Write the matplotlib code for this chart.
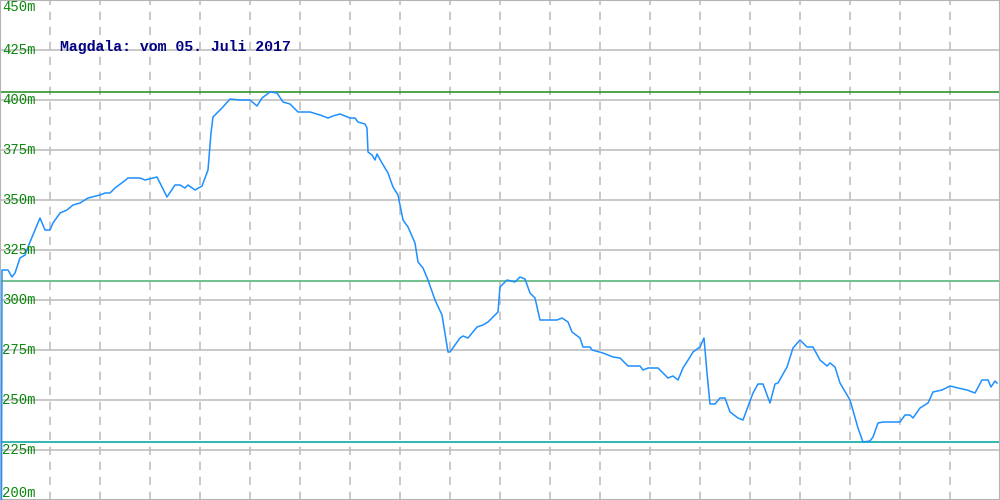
"""Elevation profile: Magdala, 05. Juli 2017."""

import matplotlib
matplotlib.use('Agg')
import matplotlib.pyplot as plt


# distance along the track (chart units, 0..1000) and elevation in m
distance = [
    1.5, 2, 8, 12, 15, 20, 25, 30, 35, 40, 45, 50, 53, 60, 67, 73, 80, 88,
    100, 105, 110, 115, 123, 128, 140, 145, 157, 160, 167, 175, 180, 185,
    188, 195, 202, 208, 211, 213, 222, 230, 240, 250, 257, 262, 270, 277,
    283, 290, 298, 310, 320, 328, 333, 340, 350, 355, 358, 365, 367, 368,
    372, 375, 377, 382, 388, 393, 398, 403, 408, 415, 418, 423, 428, 435,
    442, 448, 450, 460, 463, 468, 477, 483, 488, 498, 500, 507, 515, 520,
    525, 530, 535, 540, 557, 562, 568, 572, 580, 583, 590, 592, 603, 613,
    620, 628, 640, 643, 648, 658, 668, 673, 678, 683, 690, 693, 700, 704,
    707, 710, 715, 720, 725, 730, 738, 743, 753, 758, 763, 770, 775, 778,
    787, 793, 800, 807, 813, 820, 827, 830, 835, 840, 850, 858, 863, 870,
    873, 878, 883, 900, 905, 910, 913, 920, 928, 933, 942, 950, 958, 967,
    975, 982, 988, 991, 995, 997,
]
elevation = [
    200, 315, 315, 311.5, 313.5, 321, 322.5, 329, 335, 341, 335, 335, 338.5,
    343.5, 345, 347.5, 348.5, 351, 352.5, 353.5, 353.5, 356, 359, 361, 361,
    360, 361.5, 358.5, 351.5, 357.5, 357.5, 356, 357.5, 355, 357, 365,
    383.5, 391.5, 396, 400.5, 400, 400, 397, 401, 404, 403.5, 399, 398,
    394, 394, 392.5, 391, 392, 393, 391, 391, 389, 388, 386, 374, 372.5,
    370, 373, 368.5, 363.5, 356.5, 352.5, 340, 336.5, 328.5, 319, 316, 310,
    300, 292.5, 274, 274, 281, 282, 281, 286.5, 287.5, 289, 294, 306.5, 310,
    309, 311.5, 310.5, 303.5, 301, 290, 290, 291, 289, 284, 281, 276.5,
    276.5, 275, 273.5, 271.5, 271, 267, 267, 265, 266, 266, 261, 262, 260,
    266, 271.5, 274, 276.5, 281, 263.5, 248, 248, 251, 251, 244, 241, 240,
    253.5, 258, 258, 248.5, 258, 258.5, 266.5, 276, 280, 276.5, 276.5, 270,
    267, 268.5, 266.5, 258.5, 250, 236, 229, 229.5, 231.5, 238.5, 239, 239,
    242.5, 242.5, 241, 246, 248.5, 254, 255, 257, 256, 255, 253.5, 260, 260,
    256.5, 259.5, 258.5,
]

y_ticks = [200, 225, 250, 275, 300, 325, 350, 375, 400, 425, 450]
x_grid = list(range(50, 1000, 50))

max_elev = 404
mean_elev = 309.5
min_elev = 229

title = 'Magdala: vom 05. Juli 2017'


fig = plt.figure(figsize=(10, 5), dpi=100)
ax = fig.add_axes([0, 0, 1, 1])
ax.set_xlim(0, 1000)
ax.set_ylim(200, 450)
ax.set_xticks([])
ax.set_yticks([])
for side in ax.spines.values():
    side.set_color('#b4b4b4')
    side.set_linewidth(1.5)

# grid
for v in y_ticks[1:-1]:
    ax.axhline(v, color='#c0c0c0', lw=1.2, zorder=1)
for x in x_grid:
    ax.axvline(x, color='#c0c0c0', lw=1.2, ls=(0, (5, 4)), zorder=1)

# max / mean / min lines
ax.axhline(max_elev, color='#1e8c1e', lw=1.1, zorder=2)
ax.axhline(mean_elev, color='#4caf6e', lw=1.1, zorder=2)
ax.axhline(min_elev, color='#20b2aa', lw=1.3, zorder=2)

# profile
ax.plot(distance, elevation, color='#1e90ff', lw=1.1, zorder=3)

# y labels inside the plot
for v in y_ticks:
    va = 'center'
    if v == 450:
        va = 'top'
    elif v == 200:
        va = 'bottom'
    ax.text(2, v, '%dm' % v, color='#0a870a', fontsize=10,
            family='Liberation Mono', ha='left', va=va, zorder=4)

ax.text(60, 426.5, title, color='#000080', fontsize=10.7, fontweight='bold',
        family='Liberation Mono', ha='left', va='center', zorder=4)

fig.savefig('out.png', dpi=100)
